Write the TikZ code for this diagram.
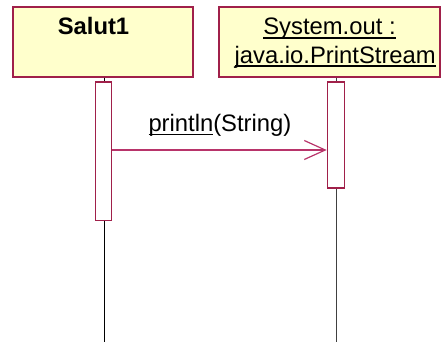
\documentclass[tikz,border=0pt]{standalone}
\usepackage{fontspec}
\setmainfont{Liberation Sans}
\usetikzlibrary{arrows.meta}
\definecolor{objfill}{HTML}{FFFFCC}
\definecolor{objline}{HTML}{A0204A}
\definecolor{msgline}{HTML}{B8346A}
% underline with a heavier rule, drawn just below the baseline
\newcommand\ulword[1]{\leavevmode\setbox0\hbox{#1}\rlap{\raisebox{-3.6pt}{\rule{\wd0}{1.4pt}}}\box0}
\begin{document}
\begin{tikzpicture}[x=1pt,y=-1pt,
  objbox/.style={draw=objline, line width=1.4pt, fill=objfill, inner sep=0pt},
  actbox/.style={draw=objline, line width=1.2pt, fill=white, inner sep=0pt},
  lifeline/.style={draw=black, line width=1pt},
  label/.style={inner sep=0pt, anchor=base, font=\fontsize{23.8}{28}\selectfont},
  msg/.style={draw=msgline, line width=1.2pt,
    -{Straight Barb[length=21pt,width=19pt,line width=1.2pt]}}]
  \useasboundingbox (0,0) rectangle (443,342);

  % object heads
  \node[objbox, minimum width=180pt, minimum height=70pt] (salut) at (103,42) {};
  \node[objbox, minimum width=221pt, minimum height=70pt] (sysout) at (329.5,42) {};
  \node[label, font=\fontsize{23.8}{28}\selectfont\bfseries] (salutname) at (93.5,35) {Salut1};
  \node[label] (sysname1) at (329.5,35) {\ulword{System.out :}};
  \node[label] (sysname2) at (335.2,63.3) {\ulword{java.io.PrintStream}};

  % lifelines
  \coordinate (end1) at (104.3,342);
  \coordinate (end2) at (336.7,342);
  \draw[lifeline] (salut.south -| end1) -- (end1);
  \draw[lifeline, draw=black!75, line width=1.3pt] (sysout.south -| end2) -- (end2);

  % activations
  \node[actbox, minimum width=16.4pt, minimum height=138.7pt] (act1) at (103.5,151.35) {};
  \node[actbox, minimum width=17pt, minimum height=106pt] (act2) at (335.8,135) {};

  % message
  \coordinate (m1) at (act1.east |- 0,150);
  \coordinate (m2) at (act2.west |- 0,150);
  \draw[msg] (m1) -- (m2);
  \node[label, anchor=base west] (msglabel) at (148.3,131.5) {\ulword{println}(String)};
\end{tikzpicture}
\end{document}
